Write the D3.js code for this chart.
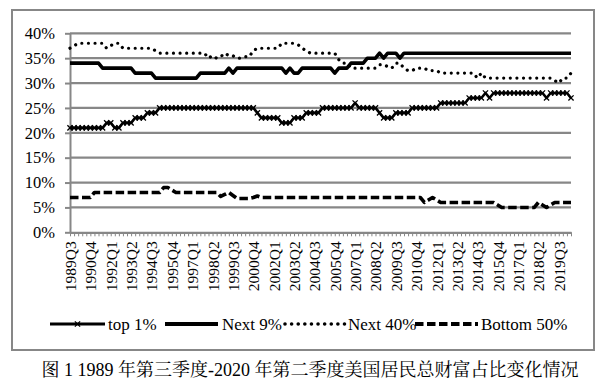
<!DOCTYPE html>
<html><head><meta charset="utf-8">
<script src="https://cdn.jsdelivr.net/npm/d3@7"></script>
<style>
html,body{margin:0;padding:0;background:#fff;}
svg{display:block;}
text{font-family:"Liberation Serif","Times New Roman",serif;fill:#000;}
text.cap{font-family:"Liberation Serif","Noto Serif CJK SC","Noto Sans CJK SC",serif;}
</style></head>
<body>
<svg id="chart" width="607" height="383"></svg>
<script>
// ---- data (percent of total household wealth) ----
const seriesNames = ["top 1%", "Next 9%", "Next 40%", "Bottom 50%"];
const startYear = 1989, startQuarter = 3, quarterCount = 124;
const xTickLabels = ["1989Q3","1990Q4","1992Q1","1993Q2","1994Q3","1995Q4","1997Q1","1998Q2","1999Q3","2000Q4","2002Q1","2003Q2","2004Q3","2005Q4","2007Q1","2008Q2","2009Q3","2010Q4","2012Q1","2013Q2","2014Q3","2015Q4","2017Q1","2018Q2","2019Q3"];
const yTicks = [0,5,10,15,20,25,30,35,40];

const top1 = [21,21,21,21,21,21,21,21,21,22,22,21,21,22,22,22,23,23,23,24,24,24,
  25,25,25,25,25,25,25,25,25,25,25,25,25,25,25,25,25,25,25,25,25,25,25,25,
  24,23,23,23,23,23,22,22,22,23,23,23,24,24,24,24,
  25,25,25,25,25,25,25,25,26,25,25,25,25,25,24,23,23,23,24,24,24,24,
  25,25,25,25,25,25,25,26,26,26,26,26,26,26,27,27,27,27,28,27,
  28,28,28,28,28,28,28,28,28,28,28,28,28,27,28,28,28,28,28,27];
const next9 = [34,34,34,34,34,34,34,34,33,33,33,33,33,33,33,33,32,32,32,32,32,
  31,31,31,31,31,31,31,31,31,31,31,32,32,32,32,32,32,32,33,32,
  33,33,33,33,33,33,33,33,33,33,33,33,32,33,32,32,33,33,33,33,33,33,33,33,32,
  33,33,33,34,34,34,34,35,35,35,36,35,36,36,36,35,
  36,36,36,36,36,36,36,36,36,36,36,36,36,36,36,36,36,36,36,36,36,
  36,36,36,36,36,36,36,36,36,36,36,36,36,36,36,36,36,36,36,36,36];
const next40 = [37,37.5,38,38,38,38,38,38,38,37,37.5,38,38,37,37,37,37,37,37,37,37,36.5,
  36,36,36,36,36,36,36,36,36,36,36,36,35,35.5,35,35.3,36,35.5,35.5,35,35,35.3,35.3,36.5,
  37,37,37,37,37,37,38,38,38,38,37.7,37,36.5,36,36,36,36,36,36,36,34.7,34,34,
  33,33,33,33,33,33,33,33.7,33.7,33.3,33,34,34,33,32.5,32.5,33,33,33,32.5,32.5,32.5,
  32,32,32,32,32,32,32,32,32,31,32,
  31,31,31,31,31,31,31,31,31,31,31,31,31,31,31,31,31,30.5,30,31,31,32];
const bottom50 = [7,7,7,7,7,7,8,8,8,8,8,8,8,8,8,8,8,8,8,8,8,8,8,9,9,8.5,
  8,8,8,8,8,8,8,8,8,8,8,7.2,7.6,8,7.4,6.8,6.8,6.8,6.8,7,7.3,
  7,7,7,7,7,7,7,7,7,7,7,7,7,7,7,7,7,7,7,7,7,7,7,7,7,7,7,7,7,7,7,7,7,7,7,7,7,7,7,7,
  6,6.5,7,6.5,6,6,6,6,6,6,6,6,6,6,6,6,6,6,5.5,5,5,5,5,5,5,5,5,5,6,5.5,5,5.5,6,6,6,6,6,6];

// quarter category labels
const quarters = [];
for (let i = 0, y = startYear, q = startQuarter; i < quarterCount; i++) {
  quarters.push(y + "Q" + q);
  q++; if (q > 4) { q = 1; y++; }
}

const svg = d3.select("#chart");
const L = 70, R = 571, T = 33.3, B = 232.3;
const x = d3.scalePoint().domain(quarters).range([L, R]);
const y = d3.scaleLinear().domain([0, 40]).range([B, T]);
const grid = "#878787";
const serif = '"Liberation Serif","Times New Roman",serif';

// outer frame
svg.append("rect").attr("x", 12).attr("y", 10).attr("width", 582).attr("height", 340)
  .attr("fill", "none").attr("stroke", grid).attr("stroke-width", 2);

// gridlines
svg.append("g").selectAll("line").data(yTicks.filter(d => d > 0)).join("line")
  .attr("x1", L).attr("x2", R).attr("y1", d => y(d)).attr("y2", d => y(d))
  .attr("stroke", grid).attr("stroke-width", 2.2);

// y axis
const yAxis = svg.append("g").attr("transform", `translate(${L},0)`)
  .call(d3.axisLeft(y).tickValues(yTicks).tickFormat(d => d + "%").tickSize(5).tickSizeOuter(0).tickPadding(10));
yAxis.attr("font-family", null).attr("font-size", null);
yAxis.select(".domain").attr("stroke", grid).attr("stroke-width", 2);
yAxis.selectAll(".tick line").attr("stroke", grid).attr("stroke-width", 2);
yAxis.selectAll("text").style("font-size", "16.5px").style("font-family", serif).attr("fill", "#000");

// x axis
const xAxis = svg.append("g").attr("transform", `translate(0,${B})`)
  .call(d3.axisBottom(x).tickValues(quarters).tickSize(4).tickSizeOuter(0)
    .tickFormat(d => xTickLabels.includes(d) ? d : ""));
xAxis.attr("font-family", null).attr("font-size", null);
xAxis.select(".domain").attr("stroke", grid).attr("stroke-width", 2.2);
xAxis.selectAll(".tick line").attr("stroke", grid).attr("stroke-width", 1);
xAxis.selectAll("text")
  .style("font-size", "15.5px").style("font-family", serif).attr("fill", "#000")
  .attr("text-anchor", "end").attr("dominant-baseline", "central")
  .attr("transform", "rotate(-90)")
  .attr("x", -9).attr("y", 0).attr("dy", null);

// lines
const line = d3.line().x((d, i) => x(quarters[i])).y(d => y(d));
const styles = [
  {data: top1, width: 2.6, dash: null, cap: "butt"},
  {data: next9, width: 3.6, dash: null, cap: "butt"},
  {data: next40, width: 3.2, dash: "0.01,6.6", cap: "round"},
  {data: bottom50, width: 3.6, dash: "8.5,3.5", cap: "butt"}
];
const g = svg.append("g");
styles.forEach(s => {
  g.append("path").datum(s.data).attr("d", line).attr("fill", "none")
    .attr("stroke", "#000").attr("stroke-width", s.width)
    .attr("stroke-dasharray", s.dash).attr("stroke-linecap", s.cap)
    .attr("stroke-linejoin", "round");
});
const xMark = "M-2.6,-2.6L2.6,2.6M-2.6,2.6L2.6,-2.6";
g.append("g").selectAll("path").data(top1).join("path")
  .attr("transform", (d, i) => `translate(${x(quarters[i])},${y(d)})`)
  .attr("d", xMark).attr("stroke", "#000").attr("stroke-width", 1.3).attr("fill", "none");

// legend
const ly = 324;
const legend = [
  {x1: 50, x2: 105, tx: 108, s: styles[0], mark: true},
  {x1: 165, x2: 218, tx: 222, s: styles[1]},
  {x1: 285, x2: 345, tx: 348, s: styles[2]},
  {x1: 415, x2: 478, tx: 481, s: styles[3]}
];
legend.forEach((l, i) => {
  svg.append("line").attr("x1", l.x1).attr("x2", l.x2).attr("y1", ly).attr("y2", ly)
    .attr("stroke", "#000").attr("stroke-width", l.s.width + 0.4)
    .attr("stroke-dasharray", l.s.dash).attr("stroke-linecap", l.s.cap);
  if (l.mark) svg.append("path").attr("transform", `translate(${(l.x1 + l.x2) / 2},${ly})`)
    .attr("d", xMark).attr("stroke", "#000").attr("stroke-width", 1.3);
  svg.append("text").attr("x", l.tx).attr("y", ly + 6).style("font-size", "17px")
    .style("font-family", serif).text(seriesNames[i]);
});

// caption
svg.append("text").attr("class", "cap").attr("x", 310).attr("y", 376)
  .attr("text-anchor", "middle").style("font-size", "18px")
  .text("图 1 1989 年第三季度-2020 年第二季度美国居民总财富占比变化情况");
</script>
</body></html>
